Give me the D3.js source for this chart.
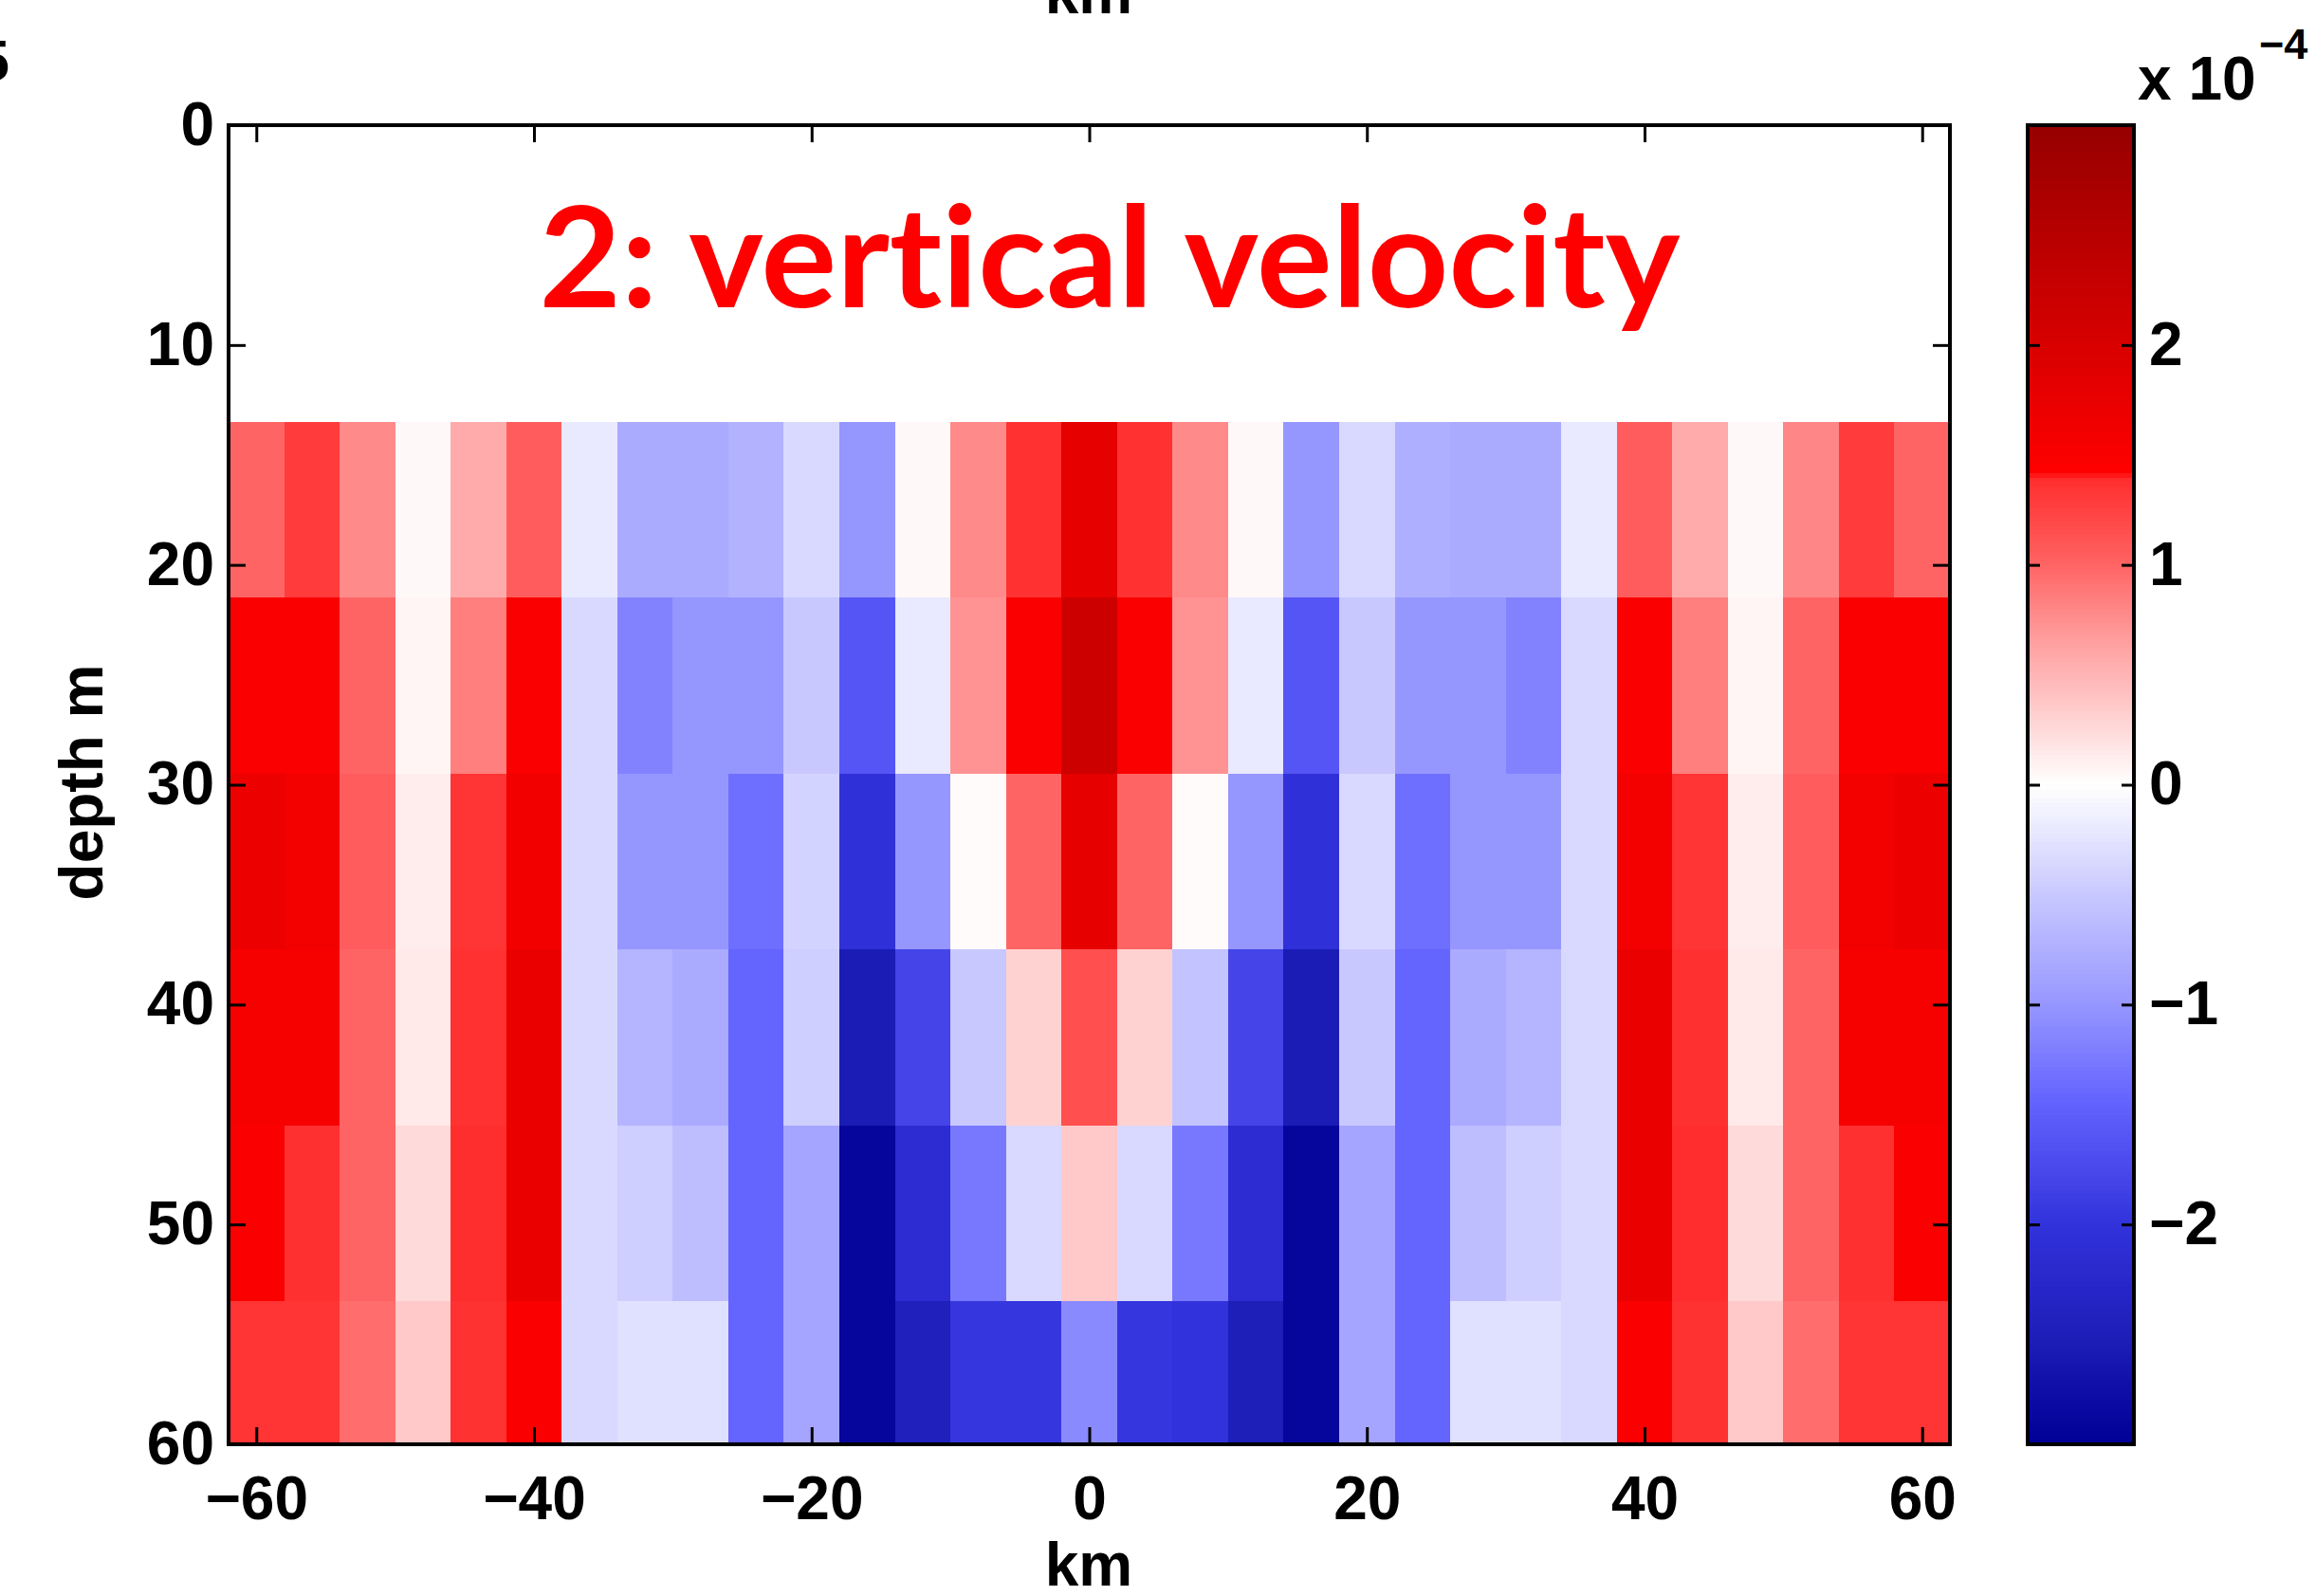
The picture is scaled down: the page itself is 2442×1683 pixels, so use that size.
<!DOCTYPE html>
<html>
<head>
<meta charset="utf-8">
<script src="https://cdn.jsdelivr.net/npm/d3@7"></script>
<style>
  html, body { margin: 0; padding: 0; background: #ffffff; }
  svg { display: block; }
  .title { font-variant-ligatures: none; font-feature-settings: "liga" 0, "clig" 0; }
</style>
</head>
<body>
<svg id="chart" width="2442" height="1683"></svg>
<script>
// Section coordinates (cell centres)
const xKm = [-60, -56, -52, -48, -44, -40, -36, -32, -28, -24, -20, -16, -12, -8, -4, 0,
             4, 8, 12, 16, 20, 24, 28, 32, 36, 40, 44, 48, 52, 56, 60];
const depthM = [17.5, 25.5, 33.5, 41.5, 49.5, 57.5];

// Vertical velocity, units of 1e-4 m/s, one array per depth level
const wAt17 = [1.0, 1.3, 0.78, 0.05, 0.57, 1.05, -0.2, -0.8, -0.8, -0.72, -0.35, -1.0, 0.05, 0.78, 1.37, 1.8,
               1.37, 0.78, 0.05, -1.0, -0.35, -0.75, -0.8, -0.8, -0.2, 1.05, 0.57, 0.05, 0.8, 1.3, 1.0];
const wAt25 = [1.5, 1.5, 1.0, 0.07, 0.85, 1.5, -0.35, -1.17, -1.0, -1.0, -0.5, -1.6, -0.2, 0.73, 1.5, 2.17,
               1.5, 0.73, -0.2, -1.6, -0.5, -1.0, -1.0, -1.17, -0.35, 1.5, 0.85, 0.07, 1.0, 1.5, 1.5];
const wAt33 = [1.7, 1.6, 1.05, 0.12, 1.35, 1.62, -0.35, -1.0, -1.0, -1.34, -0.4, -2.05, -1.0, 0.03, 1.0, 1.8,
               1.0, 0.03, -1.0, -2.05, -0.35, -1.34, -1.0, -1.0, -0.35, 1.6, 1.35, 0.12, 1.05, 1.6, 1.7];
const wAt41 = [1.55, 1.55, 1.0, 0.15, 1.37, 1.72, -0.35, -0.7, -0.8, -1.43, -0.45, -2.55, -1.8, -0.5, 0.3, 1.15,
               0.3, -0.55, -1.8, -2.55, -0.5, -1.43, -0.8, -0.7, -0.35, 1.72, 1.38, 0.15, 1.0, 1.55, 1.55];
const wAt49 = [1.5, 1.38, 1.0, 0.25, 1.39, 1.72, -0.35, -0.45, -0.6, -1.43, -0.85, -2.9, -2.15, -1.26, -0.35, 0.36,
               -0.35, -1.26, -2.15, -2.9, -0.85, -1.43, -0.6, -0.45, -0.35, 1.72, 1.4, 0.25, 1.0, 1.38, 1.5];
const wAt57 = [1.35, 1.35, 0.95, 0.36, 1.36, 1.5, -0.35, -0.28, -0.28, -1.43, -0.85, -2.9, -2.45, -1.95, -1.95, -1.1,
               -1.95, -2.0, -2.5, -2.9, -0.85, -1.43, -0.28, -0.28, -0.35, 1.5, 1.36, 0.36, 0.95, 1.35, 1.35];
const wRows = [wAt17, wAt25, wAt33, wAt41, wAt49, wAt57];

const xTicks = [-60, -40, -20, 0, 20, 40, 60];
const yTicks = [0, 10, 20, 30, 40, 50, 60];
const cbTicks = [-2, -1, 0, 1, 2];

// Blue-white-red colour map
const cmapStops  = [-3, -2.5, -2, -1.43, -1, -0.5, 0, 0.37, 0.71, 1, 1.4, 1.42, 3];
const cmapColors = ["#000096", "#1e1eb9", "#3232dc", "#6464ff", "#9696ff", "#c8c8ff", "#ffffff",
                    "#ffc8c8", "#ff9696", "#ff6464", "#ff2d2d", "#ff0000", "#960000"];

const svg = d3.select("#chart");
const plot = { left: 241, right: 2056, top: 132, bottom: 1523 };
const cbar = { left: 2138, right: 2250 };

const x = d3.scaleLinear().domain([-62, 62]).range([plot.left, plot.right]);
const y = d3.scaleLinear().domain([0, 60]).range([plot.top, plot.bottom]);
const color = d3.scaleLinear().domain(cmapStops).range(cmapColors)
  .interpolate(d3.interpolateRgb).clamp(true);
const cbY = d3.scaleLinear().domain([-3, 3]).range([plot.bottom, plot.top]);

const axisFont = "'Liberation Sans', Arial, Helvetica, sans-serif";

// Clip region for the section plot
svg.append("defs").append("clipPath").attr("id", "plotClip")
  .append("rect")
  .attr("x", plot.left).attr("y", plot.top)
  .attr("width", plot.right - plot.left).attr("height", plot.bottom - plot.top);

// Cells
const cells = [];
wRows.forEach((row, ri) => {
  row.forEach((v, ci) => cells.push({ x: xKm[ci], d: depthM[ri], v }));
});
svg.append("g").attr("clip-path", "url(#plotClip)")
  .selectAll("rect").data(cells).join("rect")
  .attr("x", d => x(d.x - 2))
  .attr("y", d => y(d.d - 4))
  .attr("width", d => x(d.x + 2) - x(d.x - 2) + 0.5)
  .attr("height", d => y(d.d + 4) - y(d.d - 4) + 0.5)
  .attr("fill", d => color(d.v))
  .attr("shape-rendering", "crispEdges");

// Title inside the plot
svg.append("text")
  .attr("class", "title")
  .attr("x", 1170).attr("y", 324)
  .attr("text-anchor", "middle")
  .attr("font-family", "Lato, 'Open Sans', sans-serif")
  .attr("font-weight", 700)
  .attr("font-size", 148)
  .attr("fill", "#ff0000")
  .attr("textLength", 1203)
  .attr("lengthAdjust", "spacingAndGlyphs")
  .text("2: vertical velocity");

// Axes with inward ticks on all four sides
function styleAxis(g) {
  g.select(".domain").remove();
  g.selectAll(".tick line").attr("stroke", "#000").attr("stroke-width", 3);
  g.selectAll(".tick text")
    .attr("font-family", axisFont).attr("font-weight", "bold")
    .attr("font-size", 64).attr("fill", "#000");
}
svg.append("g").attr("transform", `translate(0,${plot.bottom})`)
  .call(d3.axisBottom(x).tickValues(xTicks).tickSize(-18).tickPadding(34))
  .call(styleAxis);
svg.append("g").attr("transform", `translate(0,${plot.top})`)
  .call(d3.axisTop(x).tickValues(xTicks).tickSize(-18).tickFormat(""))
  .call(styleAxis);
svg.append("g").attr("transform", `translate(${plot.left},0)`)
  .call(d3.axisLeft(y).tickValues(yTicks).tickSize(-18).tickPadding(15))
  .call(styleAxis);
svg.append("g").attr("transform", `translate(${plot.right},0)`)
  .call(d3.axisRight(y).tickValues(yTicks).tickSize(-18).tickFormat(""))
  .call(styleAxis);

svg.append("rect")
  .attr("x", plot.left).attr("y", plot.top)
  .attr("width", plot.right - plot.left).attr("height", plot.bottom - plot.top)
  .attr("fill", "none").attr("stroke", "#000").attr("stroke-width", 4);

// Axis titles
svg.append("text")
  .attr("x", 1148).attr("y", 1672).attr("text-anchor", "middle")
  .attr("font-family", axisFont).attr("font-weight", "bold").attr("font-size", 64)
  .text("km");
svg.append("text")
  .attr("transform", "translate(108,825) rotate(-90)").attr("text-anchor", "middle")
  .attr("font-family", axisFont).attr("font-weight", "bold").attr("font-size", 64)
  .text("depth m");
// Top-axis title of the panel above, cut by the page edge
svg.append("text")
  .attr("x", 1148).attr("y", 14).attr("text-anchor", "middle")
  .attr("font-family", axisFont).attr("font-weight", "bold").attr("font-size", 64)
  .text("km");
svg.append("text")
  .attr("x", 10).attr("y", 85).attr("text-anchor", "end")
  .attr("font-family", axisFont).attr("font-weight", "bold").attr("font-size", 62)
  .text("5");

// Colour bar
const cbSteps = d3.range(-3, 3, 0.02);
svg.append("g").selectAll("rect").data(cbSteps).join("rect")
  .attr("x", cbar.left).attr("width", cbar.right - cbar.left)
  .attr("y", d => cbY(d + 0.02))
  .attr("height", d => cbY(d) - cbY(d + 0.02) + 0.6)
  .attr("fill", d => color(d + 0.01))
  .attr("shape-rendering", "crispEdges");
svg.append("g").attr("transform", `translate(${cbar.right},0)`)
  .call(d3.axisRight(cbY).tickValues(cbTicks).tickFormat(d3.format("d")).tickSize(-13).tickPadding(16))
  .call(styleAxis);
svg.append("g").attr("transform", `translate(${cbar.left},0)`)
  .call(d3.axisLeft(cbY).tickValues(cbTicks).tickSize(-13).tickFormat(""))
  .call(styleAxis);
svg.append("rect")
  .attr("x", cbar.left).attr("y", plot.top)
  .attr("width", cbar.right - cbar.left).attr("height", plot.bottom - plot.top)
  .attr("fill", "none").attr("stroke", "#000").attr("stroke-width", 4);

// Colour bar scale factor
svg.append("text")
  .attr("x", 2254).attr("y", 105)
  .attr("font-family", axisFont).attr("font-weight", "bold").attr("font-size", 64)
  .text("x 10");
svg.append("text")
  .attr("x", 2382).attr("y", 62)
  .attr("font-family", axisFont).attr("font-weight", "bold").attr("font-size", 45)
  .text("\u22124");
</script>
</body>
</html>
